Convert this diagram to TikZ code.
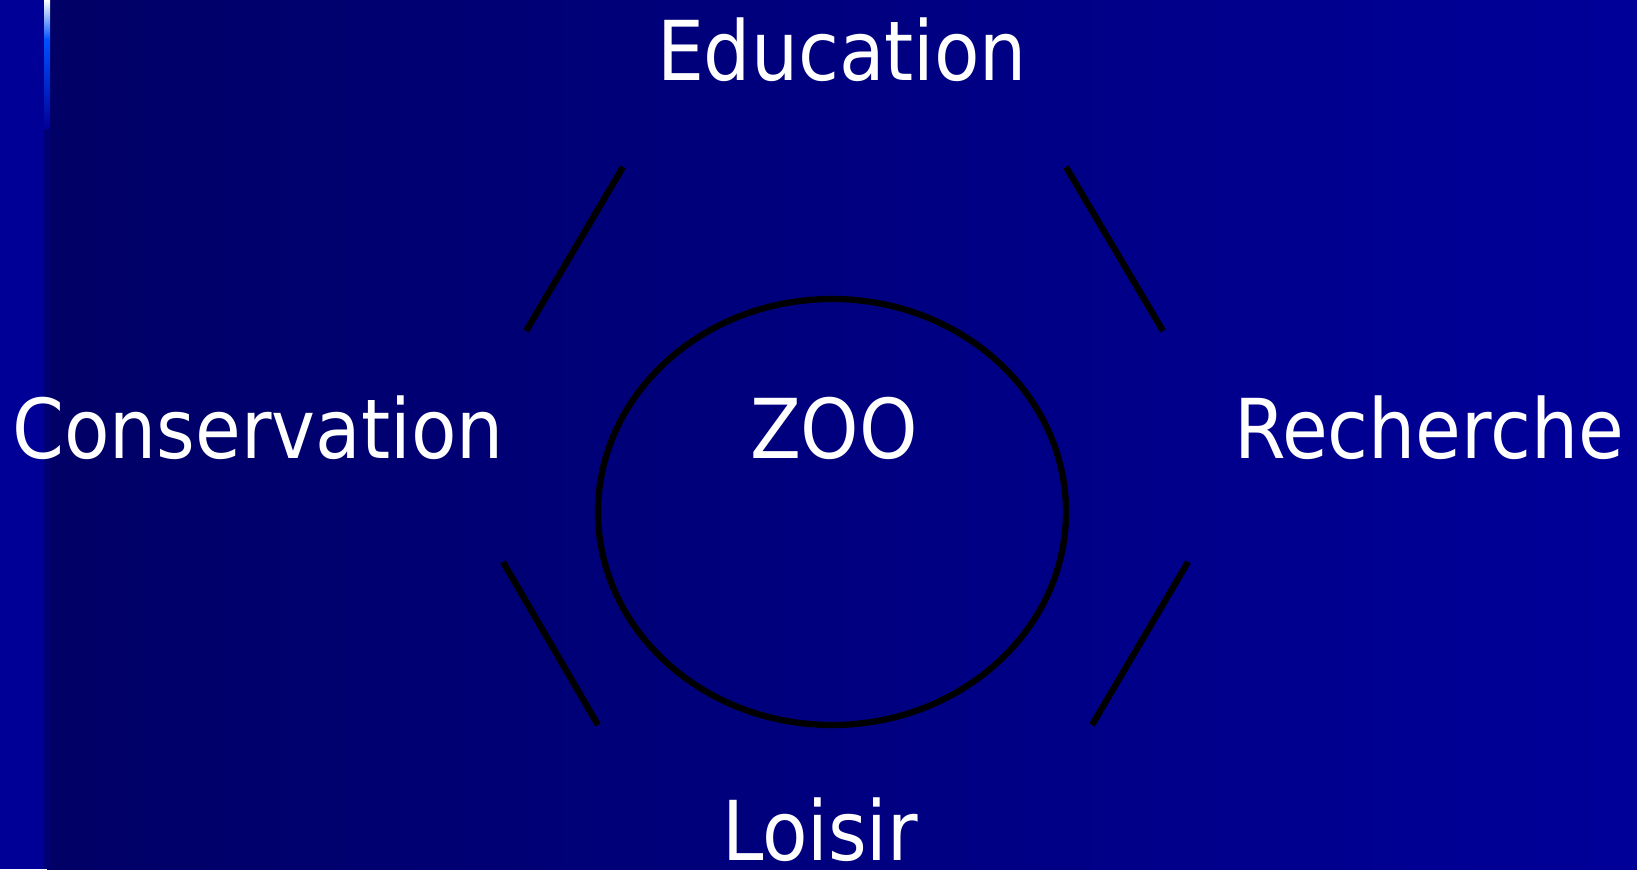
\documentclass[tikz,border=0pt]{standalone}
\usepackage{fontspec}
\setmainfont{DejaVu Sans Condensed}
\usetikzlibrary{calc}

\definecolor{navyL}{RGB}{0,0,102}
\definecolor{navyR}{RGB}{0,0,153}
\definecolor{stripC}{RGB}{0,0,150}
\definecolor{barC}{RGB}{0,80,255}
\definecolor{barD}{RGB}{0,0,118}

\begin{document}
\begin{tikzpicture}[thick, mot/.style={white, inner sep=0pt, anchor=base, font=\fontsize{23.5}{28}\selectfont}]
  % fond
  \useasboundingbox (0,0) rectangle (16.37,8.69);
  \shade[left color=navyL, right color=navyR] (0.47,0) rectangle (16.37,8.69);
  \fill[stripC] (0,0) rectangle (0.44,8.69);
  \fill[barD] (0.44,0) rectangle (0.50,7.4);
  \shade[top color=white, bottom color=barC] (0.44,8.29) rectangle (0.50,8.69);
  \shade[top color=barC, bottom color=stripC] (0.44,7.4) rectangle (0.50,8.29);
  % ellipse centrale
  \coordinate (O) at (8.32,3.57);
  \draw[black, line width=1.8pt] (O) ellipse (2.34 and 2.13);
  \node[mot] (zoo) at (8.34,4.10) {ZOO};
  % les quatre missions
  \foreach \nm/\x/\y/\txt in {edu/8.42/7.88/Education, cons/2.58/4.10/Conservation,
                              rech/14.29/4.10/Recherche, lois/8.20/0.08/Loisir}
    \node[mot] (\nm) at (\x,\y) {\txt};
  % traits
  \coordinate (a1) at (6.23,7.02);  \coordinate (a2) at (5.26,5.38);
  \coordinate (b1) at (10.66,7.02); \coordinate (b2) at (11.63,5.38);
  \coordinate (c1) at (5.03,3.07);  \coordinate (c2) at (5.98,1.44);
  \coordinate (d1) at (11.88,3.07); \coordinate (d2) at (10.92,1.44);
  \foreach \p in {a,b,c,d} \draw[black, line width=1.8pt] (\p1) -- (\p2);
\end{tikzpicture}
\end{document}
